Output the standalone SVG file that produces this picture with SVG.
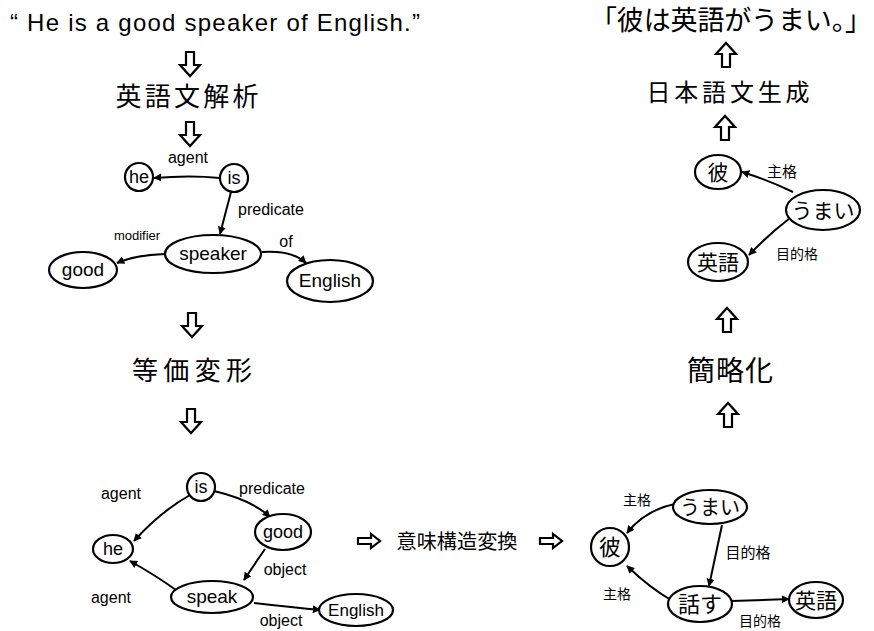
<svg xmlns="http://www.w3.org/2000/svg" width="874" height="631" viewBox="0 0 874 631">
<defs>
<style>
.t{font-family:"Liberation Sans","Noto Sans CJK JP",sans-serif;fill:#000}
.j{font-family:"Noto Sans CJK JP","Liberation Sans",sans-serif;fill:#000}
.n{fill:#fff;stroke:#000;stroke-width:2.2}
.e{fill:none;stroke:#000;stroke-width:2}
.ba{fill:#fff;stroke:#000;stroke-width:2.2;stroke-linejoin:miter}
</style>
<marker id="ah" viewBox="0 0 10 10" refX="9" refY="5" markerWidth="8" markerHeight="8" markerUnits="userSpaceOnUse" orient="auto">
<path d="M0,0 L10,5 L0,10 Z" fill="#000"/>
</marker>
<path id="down" d="M-4,-12 L4,-12 L4,1 L10,1 L0,12 L-10,1 L-4,1 Z"/>
<path id="up" d="M-4,12 L4,12 L4,-1 L10,-1 L0,-12 L-10,-1 L-4,-1 Z"/>
<path id="right" d="M-11,-3 L2,-3 L2,-7 L11,0 L2,7 L2,3 L-11,3 Z"/>
</defs>
<rect width="874" height="631" fill="#fff"/>

<!-- flow texts and block arrows -->
<g id="sentence-en"><text class="t" x="10" y="31" font-size="24" textLength="410" lengthAdjust="spacing">“ He is a good speaker of English.”</text></g>
<g id="arrow1"><use href="#down" class="ba" transform="translate(190,64)"/></g>
<g id="step-parse"><text class="j" x="187" y="106" font-size="26" text-anchor="middle" textLength="143" lengthAdjust="spacing">英語文解析</text></g>
<g id="arrow2"><use href="#down" class="ba" transform="translate(190,134)"/></g>
<g id="arrow3"><use href="#down" class="ba" transform="translate(192,325)"/></g>
<g id="step-equiv"><text class="j" x="192" y="380" font-size="26" text-anchor="middle" textLength="120" lengthAdjust="spacing">等価変形</text></g>
<g id="arrow4"><use href="#down" class="ba" transform="translate(191,421)"/></g>
<g id="step-semantic">
<use href="#right" class="ba" transform="translate(369,541)"/>
<text class="j" x="457" y="549" font-size="20" text-anchor="middle" textLength="121" lengthAdjust="spacingAndGlyphs">意味構造変換</text>
<use href="#right" class="ba" transform="translate(551,541)"/>
</g>
<g id="arrow5"><use href="#up" class="ba" transform="translate(728,415)"/></g>
<g id="step-simplify"><text class="j" x="730" y="381" font-size="28" text-anchor="middle" textLength="86" lengthAdjust="spacing">簡略化</text></g>
<g id="arrow6"><use href="#up" class="ba" transform="translate(727,320)"/></g>
<g id="arrow7"><use href="#up" class="ba" transform="translate(725,128)"/></g>
<g id="step-generate"><text class="j" x="728" y="101" font-size="24" text-anchor="middle" textLength="163" lengthAdjust="spacing">日本語文生成</text></g>
<g id="arrow8"><use href="#up" class="ba" transform="translate(726,55)"/></g>
<g id="sentence-ja"><text class="j" x="731" y="30" font-size="27" text-anchor="middle" textLength="282" lengthAdjust="spacing">「彼は英語がうまい。」</text></g>

<!-- connectors -->
<g id="connectors" class="e" marker-end="url(#ah)">
<!-- tree 1 -->
<path d="M220,178 Q190,175 154,178"/>
<path d="M231,192 L220,234"/>
<path d="M165,254 Q135,255 117,263"/>
<path d="M262,252 Q292,250 306,263"/>
<!-- graph 2 -->
<path d="M190,495 Q160,512 134,541"/>
<path d="M214,491 Q252,500 270,517"/>
<path d="M265,549 Q254,565 244,580"/>
<path d="M176,590 Q155,575 130,561"/>
<path d="M254,603 Q290,607 320,610"/>
<!-- graph 3 -->
<path d="M675,504 Q645,510 627,533"/>
<path d="M722,525 L709,586"/>
<path d="M671,600 Q650,588 627,566"/>
<path d="M732,601 L789,599"/>
<!-- graph 4 -->
<path d="M793,192 Q768,180 742,172"/>
<path d="M790,218 Q768,235 749,255"/>
</g>

<!-- edge labels -->
<g id="edge-labels" class="t">
<text x="188" y="163" font-size="16" text-anchor="middle">agent</text>
<text x="271" y="215" font-size="16" text-anchor="middle">predicate</text>
<text x="137" y="240" font-size="13" text-anchor="middle">modifier</text>
<text x="286" y="247" font-size="16" text-anchor="middle">of</text>
<text x="121" y="499" font-size="16" text-anchor="middle">agent</text>
<text x="272" y="494" font-size="16" text-anchor="middle">predicate</text>
<text x="285" y="575" font-size="16" text-anchor="middle">object</text>
<text x="111" y="603" font-size="16" text-anchor="middle">agent</text>
<text x="281" y="626" font-size="16" text-anchor="middle">object</text>
</g>
<g id="edge-labels-ja" class="j">
<text x="637" y="505" font-size="14" text-anchor="middle">主格</text>
<text x="748" y="558" font-size="15" text-anchor="middle">目的格</text>
<text x="617" y="599" font-size="14" text-anchor="middle">主格</text>
<text x="760" y="626" font-size="14" text-anchor="middle">目的格</text>
<text x="782" y="177" font-size="15" text-anchor="middle">主格</text>
<text x="797" y="259" font-size="14" text-anchor="middle">目的格</text>
</g>

<!-- tree 1 nodes -->
<g id="t1-he"><circle class="n" cx="139" cy="177" r="14"/><text class="t" x="139" y="183" font-size="18" text-anchor="middle">he</text></g>
<g id="t1-is"><circle class="n" cx="234" cy="178" r="14"/><text class="t" x="234" y="184" font-size="18" text-anchor="middle">is</text></g>
<g id="t1-speaker"><ellipse class="n" cx="213" cy="254" rx="48" ry="19"/><text class="t" x="213" y="260" font-size="19" text-anchor="middle">speaker</text></g>
<g id="t1-good"><ellipse class="n" cx="83" cy="270" rx="34" ry="18"/><text class="t" x="83" y="276" font-size="19" text-anchor="middle">good</text></g>
<g id="t1-english"><ellipse class="n" cx="330" cy="281" rx="43" ry="21"/><text class="t" x="330" y="287" font-size="19" text-anchor="middle">English</text></g>

<!-- graph 2 nodes -->
<g id="g2-is"><circle class="n" cx="201" cy="487" r="14"/><text class="t" x="201" y="493" font-size="18" text-anchor="middle">is</text></g>
<g id="g2-he"><ellipse class="n" cx="113" cy="549" rx="20" ry="14"/><text class="t" x="113" y="555" font-size="18" text-anchor="middle">he</text></g>
<g id="g2-good"><ellipse class="n" cx="283" cy="532" rx="28" ry="18"/><text class="t" x="283" y="538" font-size="18" text-anchor="middle">good</text></g>
<g id="g2-speak"><ellipse class="n" cx="212" cy="597" rx="41" ry="16"/><text class="t" x="212" y="603" font-size="19" text-anchor="middle">speak</text></g>
<g id="g2-english"><ellipse class="n" cx="356" cy="610" rx="37" ry="16"/><text class="t" x="356" y="616" font-size="17" text-anchor="middle">English</text></g>

<!-- graph 3 nodes -->
<g id="g3-umai"><ellipse class="n" cx="710" cy="507" rx="37" ry="17"/><text class="j" x="710" y="515" font-size="20" text-anchor="middle">うまい</text></g>
<g id="g3-kare"><circle class="n" cx="610" cy="547" r="19"/><text class="j" x="610" y="555" font-size="22" text-anchor="middle">彼</text></g>
<g id="g3-hanasu"><ellipse class="n" cx="700" cy="604" rx="32" ry="18"/><text class="j" x="700" y="612" font-size="22" text-anchor="middle">話す</text></g>
<g id="g3-eigo"><ellipse class="n" cx="816" cy="600" rx="27" ry="18"/><text class="j" x="816" y="608" font-size="21" text-anchor="middle">英語</text></g>

<!-- graph 4 nodes -->
<g id="g4-kare"><ellipse class="n" cx="718" cy="172" rx="23" ry="17"/><text class="j" x="718" y="180" font-size="21" text-anchor="middle">彼</text></g>
<g id="g4-umai"><ellipse class="n" cx="823" cy="210" rx="37" ry="20"/><text class="j" x="823" y="218" font-size="21" text-anchor="middle">うまい</text></g>
<g id="g4-eigo"><ellipse class="n" cx="718" cy="262" rx="30" ry="19"/><text class="j" x="718" y="270" font-size="21" text-anchor="middle">英語</text></g>
</svg>
